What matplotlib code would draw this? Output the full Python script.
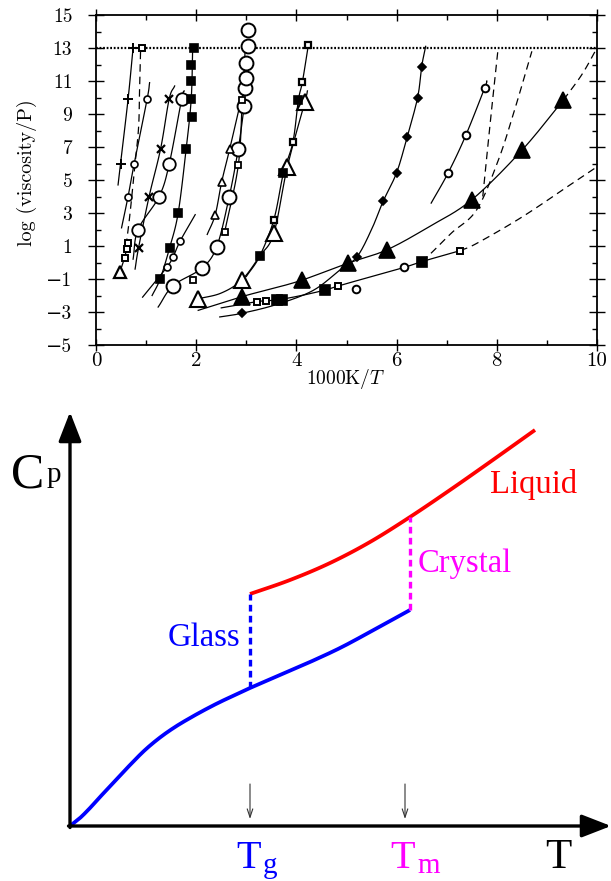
import matplotlib
matplotlib.use("Agg")
import matplotlib.pyplot as plt
import numpy as np

plt.rcParams['mathtext.fontset'] = 'cm'
plt.rcParams['axes.unicode_minus'] = True

# ---------------- top panel data (1000K/T, log viscosity) ----------------
plus_x = [0.49, 0.64, 0.74]; plus_y = [6.0, 9.9, 13.0]
plus_lx = [0.44, 0.49, 0.64, 0.74]; plus_ly = [4.7, 6.0, 9.9, 13.0]

ca_x = [0.64, 0.76, 1.02]; ca_y = [4.0, 5.95, 9.9]
ca_lx = [0.51, 0.64, 0.76, 1.02, 1.07]; ca_ly = [2.1, 4.0, 5.95, 9.9, 10.9]

da_x = [0.60, 0.68, 0.78, 0.85, 0.87, 0.89]; da_y = [1.0, 3.0, 6.0, 8.2, 10.5, 12.9]

sqa_x = [0.57, 0.61, 0.64, 0.92]; sqa_y = [0.3, 0.8, 1.2, 13.0]
tra_x = [0.48]; tra_y = [-0.55]
tra_lx = [0.44, 0.48, 0.57, 0.64]; tra_ly = [-0.9, -0.55, 0.3, 1.2]

xm_x = [0.85, 1.06, 1.29, 1.46]; xm_y = [0.9, 4.0, 6.9, 9.9]
xm_lx = [0.78, 0.85, 1.06, 1.29, 1.46, 1.57]; xm_ly = [-0.4, 0.9, 4.0, 6.9, 9.9, 10.7]

cb_x = [0.84, 1.26, 1.46, 1.71]; cb_y = [2.0, 4.0, 5.95, 9.9]
cb_lx = [0.74, 0.84, 1.26, 1.46, 1.71, 1.76]; cb_ly = [0.2, 2.0, 4.0, 5.95, 9.9, 10.4]

fsc_x = [1.28, 1.47, 1.64, 1.80, 1.91, 1.90, 1.90, 1.90, 1.96]
fsc_y = [-1.0, 0.9, 3.0, 6.9, 8.8, 9.9, 11.0, 12.0, 13.0]
fsc_lx = [1.12, 1.28, 1.47, 1.64, 1.80, 1.90, 1.93]; fsc_ly = [-2.0, -1.0, 0.9, 3.0, 6.9, 9.9, 13.0]

cd_x = [1.41, 1.54, 1.68]; cd_y = [-0.3, 0.35, 1.3]
cd_lx = [0.93, 1.41, 1.54, 1.68, 1.98]; cd_ly = [-2.1, -0.3, 0.35, 1.3, 2.9]

ce_x = [1.54, 2.11, 2.41, 2.66, 2.84, 2.96, 2.98, 3.0, 3.0, 3.04, 3.04]
ce_y = [-1.4, -0.35, 0.96, 4.0, 6.9, 9.5, 10.6, 11.2, 12.1, 13.1, 14.1]
ce_lx = [1.24, 1.54, 2.11, 2.41, 2.66, 2.84, 2.96]; ce_ly = [-2.7, -1.4, -0.35, 0.96, 4.0, 6.9, 9.5]

sqf_x = [1.94, 2.57, 2.84, 2.92]; sqf_y = [-1.06, 1.87, 5.9, 9.85]
sqf_lx = [2.57, 2.84, 2.92, 2.98]; sqf_ly = [1.87, 5.9, 9.85, 13.0]

trg_x = [2.38, 2.51, 2.67]; trg_y = [2.9, 4.9, 6.9]
trg_lx = [2.22, 2.38, 2.51, 2.67, 2.90]; trg_ly = [1.7, 2.9, 4.9, 6.9, 9.9]

trh_x = [2.04, 2.91, 3.55, 3.82, 4.17]; trh_y = [-2.2, -1.06, 1.77, 5.8, 9.75]
trh_lx = [2.04, 2.5, 2.91, 3.27, 3.55, 3.82, 4.17, 4.22]
trh_ly = [-2.2, -1.85, -1.06, 0.4, 1.77, 5.8, 9.75, 10.4]

sqi_x = [3.55, 3.93, 4.12, 4.24]; sqi_y = [2.6, 7.3, 10.95, 13.2]
fsi_x = [3.27, 3.74, 4.04]; fsi_y = [0.4, 5.4, 9.85]
si_lx = [3.0, 3.27, 3.55, 3.74, 3.93, 4.04, 4.12, 4.24]
si_ly = [-0.85, 0.4, 2.6, 5.4, 7.3, 9.85, 10.95, 13.2]

trj_x = [2.91, 4.12, 5.02, 5.8, 7.5, 8.5, 9.33]; trj_y = [-2.07, -1.06, -0.05, 0.76, 3.8, 6.8, 9.85]
trj_lx = [2.04, 2.91, 3.5, 4.12, 5.02, 5.8, 6.65, 7.5, 8.5, 9.33]
trj_ly = [-2.9, -2.07, -1.6, -1.06, -0.05, 0.76, 2.17, 3.8, 6.8, 9.85]
trj_dx = [9.33, 9.7, 10.0]; trj_dy = [9.85, 11.4, 13.0]

dk_x = [2.91, 5.21, 5.73, 6.0, 6.21, 6.42, 6.5]; dk_y = [-3.08, 0.35, 3.7, 5.44, 7.6, 10.0, 11.87]
dk_lx = [2.47, 2.91, 3.6, 4.33, 4.87, 5.21, 5.5, 5.73, 6.0, 6.21, 6.42, 6.5, 6.58]
dk_ly = [-3.3, -3.08, -2.55, -1.7, -0.45, 0.35, 2.0, 3.7, 5.44, 7.6, 10.0, 11.87, 13.1]

fsl_x = [3.61, 3.72, 4.57, 6.5]; fsl_y = [-2.27, -2.3, -1.67, 0.05]
sql_x = [3.21, 3.40, 4.84, 7.27]; sql_y = [-2.37, -2.35, -1.42, 0.72]
l_lx = [2.5, 3.21, 3.61, 4.1, 4.57, 4.84, 5.5, 6.15, 6.5, 7.27]
l_ly = [-2.75, -2.37, -2.27, -2.0, -1.67, -1.42, -0.85, -0.3, 0.05, 0.72]

cm_x = [5.18, 6.15]; cm_y = [-1.6, -0.3]

cn_x = [7.03, 7.38, 7.76]; cn_y = [5.44, 7.7, 10.6]
cn_lx = [6.69, 7.03, 7.38, 7.76, 7.8]; cn_ly = [3.6, 5.44, 7.7, 10.6, 11.0]

dq_x = [6.5, 6.7, 7.1, 7.6, 8.03, 8.35, 8.7]; dq_y = [0.05, 0.6, 1.8, 3.2, 6.2, 9.2, 12.8]
dp_x = [7.72, 7.87, 8.02]; dp_y = [4.0, 8.5, 12.8]
ds_x = [7.27, 7.6, 8.5, 9.46, 10.0]; ds_y = [0.72, 1.16, 2.75, 4.7, 5.8]

glass_level = 13.0
x_ticks = [0, 2, 4, 6, 8, 10]
y_ticks = [-5, -3, -1, 1, 3, 5, 7, 9, 11, 13, 15]

# ---------------- bottom panel data (schematic Cp vs T) ----------------
glass_T = [0.0, 0.1, 0.2, 0.3, 0.45, 0.6, 0.75, 0.9, 1.05, 1.2, 1.35, 1.5, 1.65, 1.8, 2.1, 2.4, 2.7, 3.0, 3.4]
glass_Cp = [0.0, 0.08, 0.18, 0.29, 0.45, 0.61, 0.76, 0.885, 0.99, 1.08, 1.163, 1.24, 1.31, 1.38, 1.51, 1.64, 1.78, 1.94, 2.16]
liquid_T = [1.8, 2.2, 2.6, 3.0, 3.4, 3.8, 4.2, 4.65]
liquid_Cp = [2.32, 2.46, 2.63, 2.84, 3.09, 3.36, 3.64, 3.96]
Tg = 1.8
Tm = 3.4


def smooth(x, y, n=16):
    """Catmull-Rom curve through the given points (for drawing only)."""
    P = np.column_stack([np.asarray(x, float), np.asarray(y, float)])
    if len(P) < 3:
        return P[:, 0], P[:, 1]
    Q = np.vstack([2 * P[0] - P[1], P, 2 * P[-1] - P[-2]])
    t = np.linspace(0, 1, n, endpoint=False)[:, None]
    segs = []
    for i in range(1, len(Q) - 2):
        p0, p1, p2, p3 = Q[i - 1], Q[i], Q[i + 1], Q[i + 2]
        segs.append(0.5 * (2 * p1 + (-p0 + p2) * t + (2 * p0 - 5 * p1 + 4 * p2 - p3) * t ** 2
                           + (-p0 + 3 * p1 - 3 * p2 + p3) * t ** 3))
    segs.append(P[-1:])
    S = np.vstack(segs)
    return S[:, 0], S[:, 1]


# ======================================================================
fig = plt.figure(figsize=(6.11, 8.81), dpi=100)

# bottom schematic panel (whole-figure axes, drawn underneath)
ax2 = fig.add_axes([0, 0, 1, 1])
ax2.set_xlim(-0.70, 5.41)
ax2.set_ylim(-0.55, 8.26)
ax2.axis('off')

ax2.annotate('', xy=(0, 4.14), xytext=(0, -0.015),
             arrowprops=dict(arrowstyle='-|>,head_length=0.9,head_width=0.35',
                             lw=2.4, color='k', mutation_scale=20, shrinkA=0, shrinkB=0))
ax2.annotate('', xy=(5.41, 0), xytext=(-0.015, 0),
             arrowprops=dict(arrowstyle='-|>,head_length=0.9,head_width=0.35',
                             lw=2.4, color='k', mutation_scale=20, shrinkA=0, shrinkB=0))

gx, gy = smooth(glass_T, glass_Cp)
lx_, ly_ = smooth(liquid_T, liquid_Cp)
ax2.plot(gx, gy, color='#0000ff', lw=2.7, solid_capstyle='butt')
ax2.plot(lx_, ly_, color='#ff0000', lw=2.7, solid_capstyle='butt')
ax2.plot([Tg, Tg], [glass_Cp[glass_T.index(Tg)], liquid_Cp[0]], color='#0000ff', lw=2.4,
         linestyle=(0, (2, 1.3)))
ax2.plot([Tm, Tm], [glass_Cp[-1], liquid_Cp[liquid_T.index(Tm)]], color='#ff00ff', lw=2.4,
         linestyle=(0, (2, 1.3)))

for xa in (Tg, Tm - 0.05):
    ax2.annotate('', xy=(xa, 0.07), xytext=(xa, 0.42),
                 arrowprops=dict(arrowstyle='->,head_length=0.6,head_width=0.2',
                                 lw=0.8, color='#333333', shrinkA=0, shrinkB=0))

serif_b = 'Liberation Serif'
ax2.text(-0.59, 3.38, 'C', fontsize=36, family=serif_b, va='baseline', ha='left')
ax2.text(-0.235, 3.44, 'p', fontsize=21, family=serif_b, va='baseline', ha='left')
ax2.text(4.2, 3.33, 'Liquid', fontsize=23.5, family=serif_b, color='#ff0000', va='baseline')
ax2.text(3.48, 2.54, 'Crystal', fontsize=23.5, family=serif_b, color='#ff00ff', va='baseline')
ax2.text(0.98, 1.80, 'Glass', fontsize=23.5, family=serif_b, color='#0000ff', va='baseline')
ax2.text(1.66, -0.42, 'T', fontsize=29, family=serif_b, color='#0000ff', va='baseline')
ax2.text(1.93, -0.47, 'g', fontsize=21, family=serif_b, color='#0000ff', va='baseline')
ax2.text(3.2, -0.42, 'T', fontsize=29, family=serif_b, color='#ff00ff', va='baseline')
ax2.text(3.47, -0.47, 'm', fontsize=21, family=serif_b, color='#ff00ff', va='baseline')
ax2.text(4.75, -0.42, 'T', fontsize=31, family=serif_b, color='k', va='baseline')

# top viscosity panel
ax = fig.add_axes([96 / 611, 1 - 345 / 881, (597 - 96) / 611, (345 - 15) / 881])
ax.set_xlim(0, 10)
ax.set_ylim(-5, 15)

ax.axhline(glass_level, color='k', lw=1.6, linestyle=(0, (0.8, 0.8)), zorder=1)

LW = 0.9
def line(x, y, ls='-'):
    sx, sy = smooth(x, y)
    ax.plot(sx, sy, color='k', lw=LW, linestyle=ls, zorder=2)

dash = (0, (6, 4))
for lx, ly in [(plus_lx, plus_ly), (ca_lx, ca_ly), (tra_lx, tra_ly), (xm_lx, xm_ly),
               (cb_lx, cb_ly), (fsc_lx, fsc_ly), (cd_lx, cd_ly), (ce_lx, ce_ly),
               (sqf_lx, sqf_ly), (trg_lx, trg_ly), (trh_lx, trh_ly), (si_lx, si_ly),
               (trj_lx, trj_ly), (dk_lx, dk_ly), (l_lx, l_ly), (cn_lx, cn_ly)]:
    line(lx, ly)
for lx, ly in [(da_x, da_y), (trj_dx, trj_dy), (dq_x, dq_y), (dp_x, dp_y), (ds_x, ds_y)]:
    line(lx, ly, dash)

def pts(x, y, m, ms, filled=False, mew=1.2):
    ax.plot(x, y, linestyle='none', marker=m, ms=ms, mfc='k' if filled else 'white',
            mec='k', mew=mew, zorder=3)

pts(plus_x, plus_y, '+', 7, mew=1.4)
pts(ca_x, ca_y, 'o', 5)
pts(sqa_x, sqa_y, 's', 4.5, mew=1.4)
pts(tra_x, tra_y, '^', 8, mew=1.6)
pts(xm_x, xm_y, 'x', 6, mew=1.6)
pts(cb_x, cb_y, 'o', 9, mew=1.3)
pts(fsc_x, fsc_y, 's', 5.5, filled=True)
pts(cd_x, cd_y, 'o', 5)
pts(ce_x, ce_y, 'o', 10, mew=1.4)
pts(sqf_x, sqf_y, 's', 4.5, mew=1.3)
pts(trg_x, trg_y, '^', 5.5)
pts(trh_x, trh_y, '^', 11, mew=1.5)
pts(sqi_x, sqi_y, 's', 5, mew=1.6)
pts(fsi_x, fsi_y, 's', 6, filled=True)
pts(trj_x, trj_y, '^', 11, filled=True)
pts(dk_x, dk_y, 'D', 4.5, filled=True)
pts(fsl_x, fsl_y, 's', 7, filled=True)
pts(sql_x, sql_y, 's', 4.5, mew=1.4)
pts(cm_x, cm_y, 'o', 5.5, mew=1.4)
pts(cn_x, cn_y, 'o', 5.5, mew=1.4)

tick_font = ['cmr10', 'DejaVu Serif']
ax.set_xticks(x_ticks)
ax.set_xticklabels([str(v) for v in x_ticks], family=tick_font, fontsize=15)
ax.set_yticks(y_ticks)
ax.set_yticklabels([str(v).replace('-', '\u2212') for v in y_ticks], family=tick_font, fontsize=14)
ax.set_xticks(range(0, 11), minor=True)
ax.set_yticks(range(-5, 16), minor=True)
ax.tick_params(which='minor', direction='in', top=True, right=True, width=1.0, length=3.5)
ax.tick_params(axis='x', which='major', direction='inout', top=True, length=8, width=1.0, pad=1)
ax.tick_params(axis='y', which='major', direction='inout', right=True, length=12, width=1.0, pad=11)
for sp in ax.spines.values():
    sp.set_linewidth(1.3)

fig.text(27 / 611, 1 - 173 / 881, 'log (viscosity/P)', rotation=90, ha='center', va='center',
         family=tick_font, fontsize=14.5)
fig.text(346 / 611, 1 - 379 / 881, r'1000K/$T$', ha='center', va='center',
         family=tick_font, fontsize=14)

fig.savefig('out.png', dpi=100)
